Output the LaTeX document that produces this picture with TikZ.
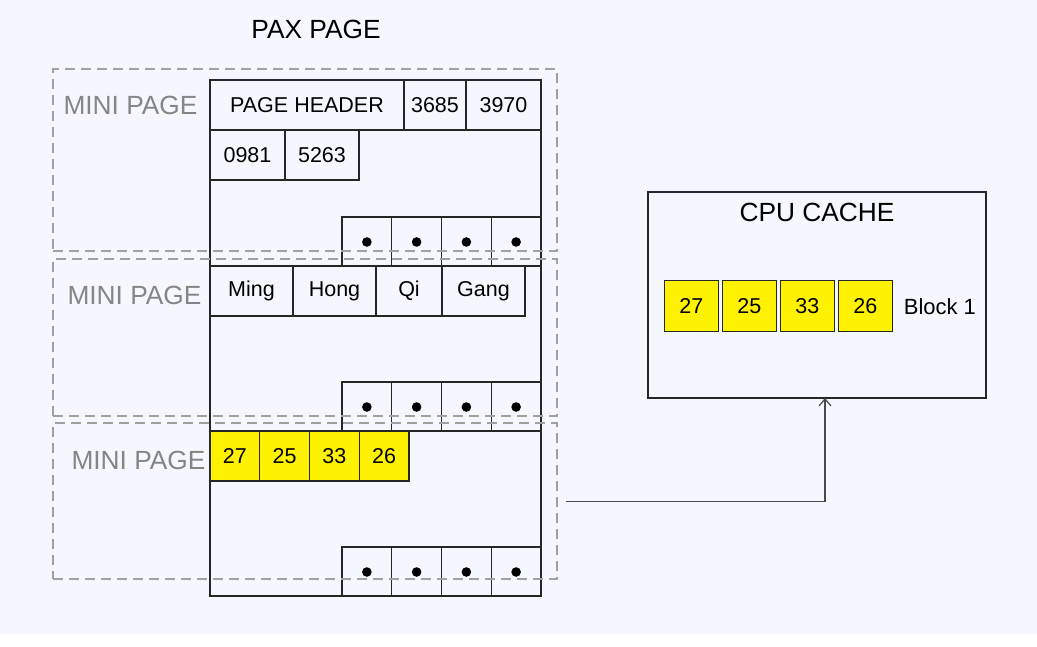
\documentclass[tikz,border=0pt]{standalone}
\usepackage{fontspec}
\setmainfont{Liberation Sans}
\usetikzlibrary{positioning,arrows.meta}

\definecolor{bgblue}{HTML}{F4F7FD}
\definecolor{framegray}{HTML}{A0A0A0}
\definecolor{labelgray}{HTML}{858585}
\definecolor{linkgray}{HTML}{4A4A4A}

\tikzset{
	cell/.style={draw=black!85, line width=1.4pt, inner sep=0pt, outer sep=0pt, anchor=north west,
		minimum height=50pt, font=\fontsize{21.5}{24}\selectfont},
	ycell/.style={cell, fill=yellow},
	dotcell/.style={cell, minimum width=49.75pt, minimum height=49pt},
	frame/.style={draw=framegray, line width=1.3pt, dash pattern=on 10pt off 6pt, inner sep=0pt, outer sep=0pt, anchor=north west},
	minilbl/.style={text=labelgray, font=\fontsize{26.3}{28}\selectfont},
	title/.style={font=\fontsize{26.3}{28}\selectfont},
	link/.style={draw=linkgray, line width=1.2pt, -{Straight Barb[length=7pt,width=12pt]}}
}

\begin{document}
\begin{tikzpicture}[x=1pt,y=-1pt]
	\useasboundingbox (0,0) rectangle (1037,647);
	\fill[bgblue] (0,0) rectangle (1037,634);

	\node[title] (pax) at (316,29) {PAX PAGE};
	\node[cell, minimum width=331pt, minimum height=516pt] (page) at (210,80) {};

	\node[cell, minimum width=194pt] (hdr) at (210,80) {PAGE HEADER};
	\node[cell, minimum width=62pt, right=0pt of hdr] (k1) {3685};
	\node[cell, minimum width=75pt, right=0pt of k1] (k2) {3970};
	\node[cell, minimum width=75pt, below right=0pt and 0pt of hdr.south west] (k3) {0981};
	\node[cell, minimum width=74pt, right=0pt of k3] (k4) {5263};

	\node[cell, minimum width=83pt] (ming) at (210,266) {Ming};
	\node[cell, minimum width=83pt, right=0pt of ming] (hong) {Hong};
	\node[cell, minimum width=66pt, right=0pt of hong] (qi) {Qi};
	\node[cell, minimum width=83pt, right=0pt of qi] (gang) {Gang};

	\foreach \v [count=\i from 0] in {27,25,33,26}
		\node[ycell, minimum width=49.75pt] (v\i) at ({210+49.75*\i},431) {\v};

	\foreach \y [count=\r] in {217,382,547}
		\foreach \i in {0,...,3} {
			\node[dotcell] (d\r\i) at ({342+49.75*\i},\y) {};
			\fill[black] ([yshift=-0.5pt]d\r\i.center) circle (4.8pt);
		}

	\node[frame, minimum width=504pt, minimum height=182pt] (mp1) at (53,69) {};
	\node[frame, minimum width=504pt, minimum height=157pt] (mp2) at (53,259) {};
	\node[frame, minimum width=504pt, minimum height=156pt] (mp3) at (53,423) {};
	\node[minilbl] (l1) at (130.5,105) {MINI PAGE};
	\node[minilbl] (l2) at (134.5,295) {MINI PAGE};
	\node[minilbl] (l3) at (138.5,460) {MINI PAGE};

	\node[cell, minimum width=338pt, minimum height=206pt] (cache) at (648,192) {};
	\node[title] (cpu) at (817,212.5) {CPU CACHE};
	\foreach \v [count=\i from 0] in {27,25,33,26}
		\node[ycell, minimum width=54pt, minimum height=51pt] (b\i) at ({664.3+58*\i},280.7) {\v};
	\node[font=\fontsize{22}{24}\selectfont, right=8pt of b3] (blk) {Block 1};

	\coordinate (src) at (566,501.5);
	\draw[link] (src) -| ([xshift=8pt]cache.south);
\end{tikzpicture}
\end{document}
